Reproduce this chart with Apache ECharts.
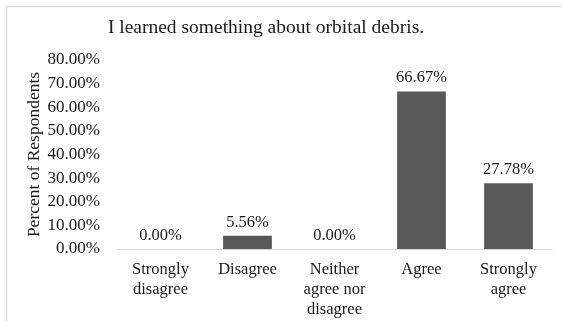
<!DOCTYPE html>
<html>
<head>
<meta charset="utf-8">
<script src="https://cdn.jsdelivr.net/npm/echarts@6/dist/echarts.min.js"></script>
<style>
  html, body { margin: 0; padding: 0; background: #fff; }
  #chart { width: 562px; height: 321px; }
</style>
</head>
<body>
<div id="chart"></div>
<script>
// Survey responses: "I learned something about orbital debris."
const categories = ['Strongly\ndisagree', 'Disagree', 'Neither\nagree nor\ndisagree', 'Agree', 'Strongly\nagree'];
const percents = [0.00, 5.56, 0.00, 66.67, 27.78];
const yTicks = { min: 0, max: 80, interval: 10 };
const titleText = 'I learned something about orbital debris.';
const yName = 'Percent of Respondents';

const serif = '"Liberation Serif", "Times New Roman", serif';
const ink = '#1a1a1a';

const chart = echarts.init(document.getElementById('chart'), null, { renderer: 'canvas' });
chart.setOption({
  animation: false,
  backgroundColor: '#fff',
  graphic: [
    {
      type: 'rect',
      shape: { x: 6.5, y: 6.5, width: 600, height: 400 },
      style: { fill: 'none', stroke: '#d9d9d9', lineWidth: 1.5 },
      silent: true
    },
    {
      type: 'text',
      x: 266,
      y: 28,
      style: {
        text: titleText,
        font: '19.5px ' + serif,
        fill: ink,
        align: 'center',
        verticalAlign: 'middle'
      }
    }
  ],
  grid: { left: 117, right: 10, top: 60, bottom: 72, containLabel: false },
  xAxis: {
    type: 'category',
    data: categories,
    axisLine: { lineStyle: { color: '#d9d9d9', width: 1 } },
    axisTick: { show: false },
    axisLabel: {
      interval: 0,
      margin: 11,
      fontFamily: serif,
      fontSize: 16.5,
      lineHeight: 20,
      color: ink
    }
  },
  yAxis: {
    type: 'value',
    min: yTicks.min,
    max: yTicks.max,
    interval: yTicks.interval,
    name: yName,
    nameLocation: 'middle',
    nameGap: 74,
    nameMoveOverlap: false,
    nameTextStyle: { fontFamily: serif, fontSize: 17.5, color: ink },
    axisLine: { show: false },
    axisTick: { show: false },
    splitLine: { show: false },
    axisLabel: {
      margin: 17,
      fontFamily: serif,
      fontSize: 17,
      color: ink,
      formatter: v => v.toFixed(2) + '%'
    }
  },
  series: [{
    type: 'bar',
    data: percents,
    barWidth: '56%',
    itemStyle: { color: '#595959' },
    label: {
      show: true,
      position: 'top',
      distance: 5,
      fontFamily: serif,
      fontSize: 16.5,
      color: ink,
      formatter: p => p.value.toFixed(2) + '%'
    }
  }]
});
</script>
</body>
</html>
